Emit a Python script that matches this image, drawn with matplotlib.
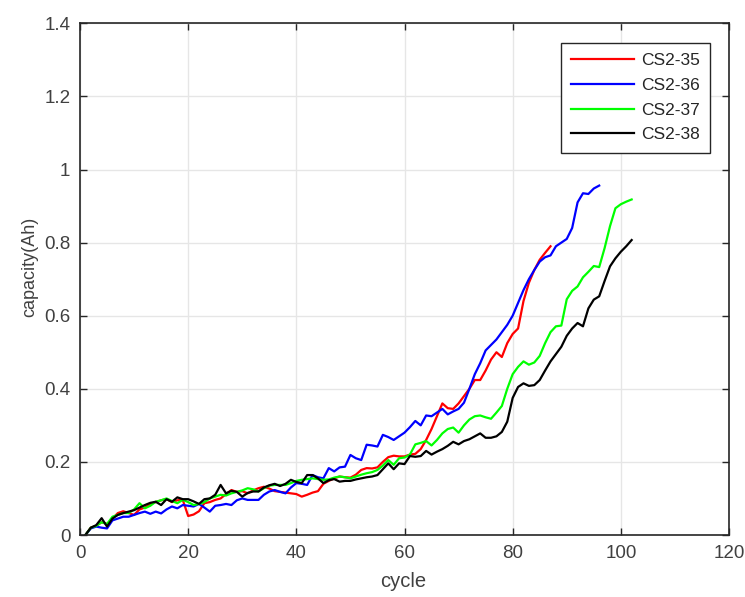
import matplotlib
matplotlib.use("Agg")
import matplotlib.pyplot as plt

plt.rcParams['font.family'] = ['Liberation Sans', 'DejaVu Sans']

labels = ["CS2-35", "CS2-36", "CS2-37", "CS2-38"]
colors = ["#ff0000", "#0000ff", "#00ff00", "#000000"]

cs35 = [0.00, 0.02, 0.025, 0.035, 0.03, 0.045, 0.06, 0.065, 0.06, 0.055,
        0.07, 0.075, 0.085, 0.09, 0.095, 0.098, 0.09, 0.095, 0.096, 0.052,
        0.056, 0.065, 0.087, 0.09, 0.096, 0.10, 0.112, 0.123, 0.118, 0.12,
        0.114, 0.122, 0.128, 0.132, 0.127, 0.12, 0.118, 0.116, 0.114, 0.112,
        0.105, 0.11, 0.116, 0.12, 0.14, 0.148, 0.155, 0.16, 0.158, 0.157,
        0.165, 0.178, 0.183, 0.182, 0.185, 0.20, 0.213, 0.217, 0.215, 0.215,
        0.22, 0.222, 0.235, 0.26, 0.29, 0.325, 0.36, 0.347, 0.345, 0.36,
        0.38, 0.40, 0.424, 0.424, 0.45, 0.48, 0.50, 0.487, 0.525, 0.55,
        0.565, 0.64, 0.69, 0.725, 0.753, 0.772, 0.79]

cs36 = [0.00, 0.018, 0.023, 0.02, 0.018, 0.04, 0.045, 0.05, 0.05, 0.055,
        0.06, 0.064, 0.058, 0.064, 0.059, 0.07, 0.078, 0.073, 0.082, 0.08,
        0.078, 0.085, 0.075, 0.064, 0.08, 0.082, 0.085, 0.082, 0.095, 0.10,
        0.096, 0.096, 0.096, 0.11, 0.119, 0.123, 0.118, 0.114, 0.13, 0.142,
        0.14, 0.137, 0.164, 0.158, 0.155, 0.183, 0.174, 0.185, 0.187, 0.219,
        0.21, 0.205, 0.247, 0.245, 0.242, 0.274, 0.268, 0.26, 0.27, 0.28,
        0.295, 0.312, 0.30, 0.327, 0.325, 0.335, 0.345, 0.33, 0.338, 0.345,
        0.362, 0.40, 0.44, 0.47, 0.505, 0.52, 0.535, 0.555, 0.575, 0.60,
        0.635, 0.67, 0.70, 0.725, 0.748, 0.76, 0.765, 0.79, 0.80, 0.81,
        0.84, 0.91, 0.935, 0.933, 0.948, 0.956]

cs37 = [0.00, 0.02, 0.025, 0.035, 0.03, 0.05, 0.055, 0.06, 0.06, 0.07,
        0.087, 0.073, 0.08, 0.091, 0.095, 0.10, 0.093, 0.087, 0.096, 0.09,
        0.082, 0.085, 0.09, 0.10, 0.105, 0.11, 0.108, 0.114, 0.118, 0.122,
        0.128, 0.125, 0.119, 0.128, 0.135, 0.137, 0.137, 0.137, 0.142, 0.148,
        0.151, 0.153, 0.155, 0.153, 0.151, 0.152, 0.157, 0.16, 0.158, 0.155,
        0.16, 0.165, 0.169, 0.172, 0.178, 0.19, 0.205, 0.192, 0.21, 0.212,
        0.22, 0.248, 0.252, 0.257, 0.245, 0.26, 0.278, 0.29, 0.294, 0.28,
        0.30, 0.316, 0.325, 0.327, 0.322, 0.318, 0.335, 0.353, 0.40, 0.44,
        0.46, 0.475, 0.466, 0.472, 0.49, 0.525, 0.555, 0.571, 0.573, 0.645,
        0.668, 0.68, 0.705, 0.72, 0.736, 0.733, 0.785, 0.845, 0.894, 0.905,
        0.912, 0.918]

cs38 = [0.00, 0.02, 0.027, 0.046, 0.023, 0.045, 0.055, 0.06, 0.064, 0.068,
        0.075, 0.082, 0.088, 0.091, 0.082, 0.098, 0.091, 0.103, 0.098, 0.098,
        0.092, 0.085, 0.098, 0.10, 0.11, 0.137, 0.114, 0.121, 0.118, 0.105,
        0.115, 0.119, 0.119, 0.13, 0.136, 0.14, 0.134, 0.14, 0.151, 0.145,
        0.142, 0.164, 0.164, 0.155, 0.142, 0.15, 0.153, 0.146, 0.148, 0.148,
        0.152, 0.155, 0.158, 0.16, 0.164, 0.18, 0.196, 0.18, 0.196, 0.194,
        0.216, 0.214, 0.216, 0.23, 0.22, 0.228, 0.235, 0.244, 0.255, 0.248,
        0.257, 0.262, 0.27, 0.278, 0.266, 0.266, 0.27, 0.282, 0.31, 0.375,
        0.405, 0.415, 0.408, 0.41, 0.424, 0.45, 0.475, 0.495, 0.515, 0.545,
        0.565, 0.58, 0.571, 0.62, 0.644, 0.653, 0.695, 0.735, 0.757, 0.775,
        0.79, 0.807]

series = [cs35, cs36, cs37, cs38]

xticks = [0, 20, 40, 60, 80, 100, 120]
yticks = [0, 0.2, 0.4, 0.6, 0.8, 1.0, 1.2, 1.4]
ytick_labels = ["0", "0.2", "0.4", "0.6", "0.8", "1", "1.2", "1.4"]

W, H = 745, 597
fig = plt.figure(figsize=(W / 100, H / 100), dpi=100)
ax_l, ax_r, ax_t, ax_b = 80, 729, 23.3, 535
ax = fig.add_axes([ax_l / W, 1 - ax_b / H, (ax_r - ax_l) / W, (ax_b - ax_t) / H])

for vals, lab, col in zip(series, labels, colors):
    cycles = list(range(1, len(vals) + 1))
    ax.plot(cycles, vals, color=col, lw=1.6, label=lab)

ax.set_xlim(0, 120)
ax.set_ylim(0, 1.4)
ax.set_xticks(xticks)
ax.set_yticks(yticks)
ax.set_yticklabels(ytick_labels)
ax.grid(True, color="#e6e6e6", lw=1.0)
ax.set_axisbelow(True)

txtc = "#404040"
ax.tick_params(direction="in", top=True, right=True, length=5, width=1,
               colors="#262626", labelcolor=txtc, labelsize=13.5, pad=7)
for s in ax.spines.values():
    s.set_color("#262626")
    s.set_linewidth(1.2)

ax.set_xlabel("cycle", fontsize=14.5, color=txtc)
ax.set_ylabel("capacity(Ah)", fontsize=13, color=txtc)
aw, ah = ax_r - ax_l, ax_b - ax_t
ax.xaxis.set_label_coords((403 - ax_l) / aw, (ax_b - 572) / ah)
ax.yaxis.set_label_coords((38 - ax_l) / aw, (ax_b - 267) / ah)

leg = ax.legend(loc="upper right",
                bbox_to_anchor=((710 - ax_l) / aw, (ax_b - 42.7) / ah),
                borderaxespad=0, fontsize=12.5, fancybox=False, framealpha=1,
                edgecolor="#262626", handlelength=3.6, labelspacing=0.55,
                handletextpad=0.4, borderpad=0.6)
leg.get_frame().set_linewidth(1.0)
for t in leg.get_texts():
    t.set_color("#262626")

fig.savefig("out.png", dpi=100)
